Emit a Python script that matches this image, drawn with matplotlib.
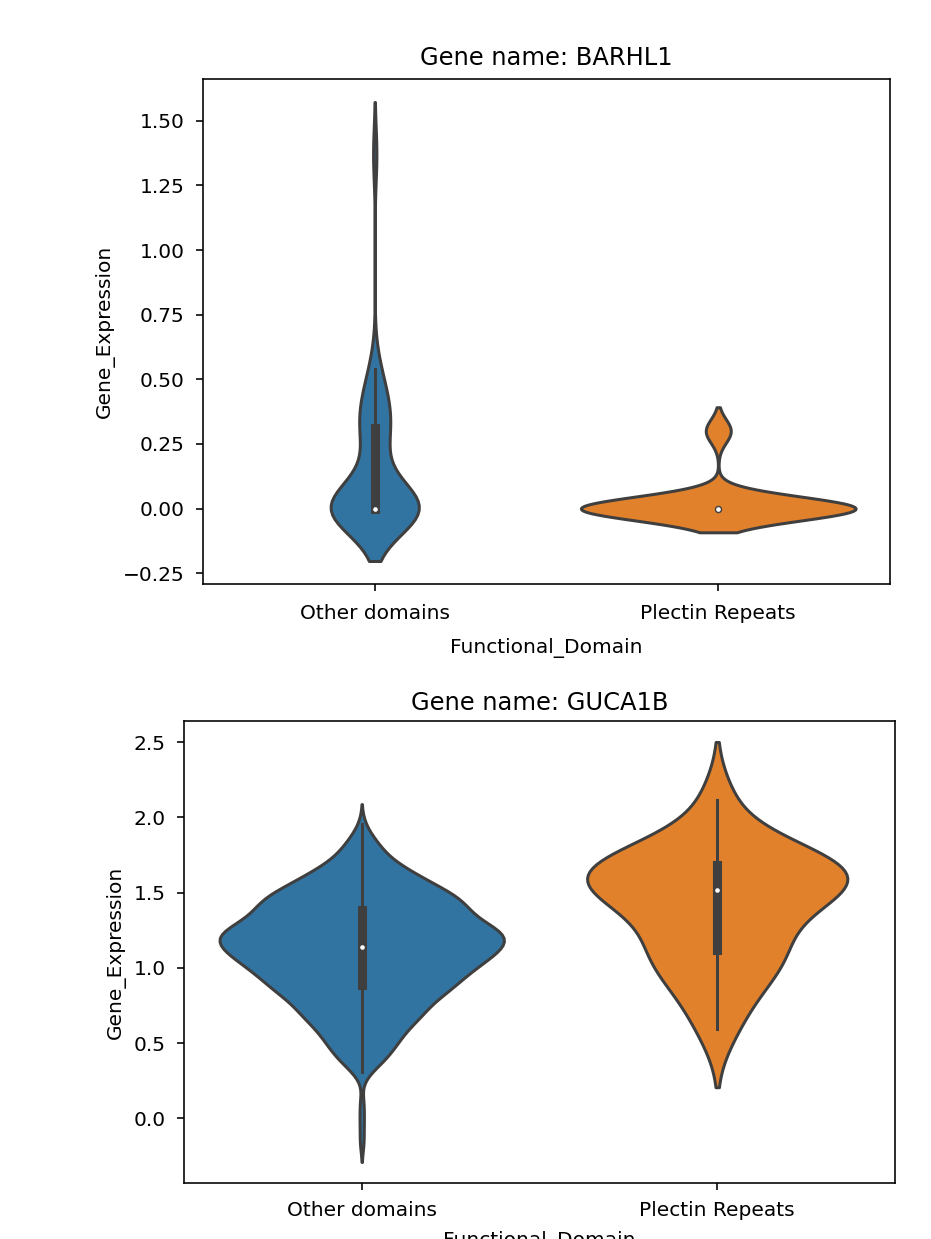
import numpy as np
import matplotlib
matplotlib.use("Agg")
import matplotlib.pyplot as plt

# categories on the x axis
domains = ["Other domains", "Plectin Repeats"]

# BARHL1: expression values and how many samples share each value
barhl1_other_values = [0.0, 0.16, 0.18, 0.24, 0.26, 0.31, 0.32, 0.33, 0.35, 0.37,
                       0.39, 0.43, 0.45, 0.50, 0.54, 1.37]
barhl1_other_counts = [26, 1, 1, 1, 1, 1, 1, 1, 1, 1,
                       1, 1, 1, 1, 1, 1]
barhl1_plectin_values = [0.0, 0.30]
barhl1_plectin_counts = [11, 1]

# GUCA1B: expression values and sample counts
guca1b_other_values = [-0.158, -0.03, 0.09, 0.305, 0.35, 0.385, 0.435, 0.485, 0.535, 0.585,
                       0.635, 0.685, 0.735, 0.785, 0.835, 0.885, 0.935, 0.985, 1.035, 1.085,
                       1.135, 1.185, 1.235, 1.285, 1.335, 1.385, 1.435, 1.485, 1.535, 1.585,
                       1.635, 1.685, 1.735, 1.785, 1.835, 1.885, 1.955]
guca1b_other_counts = [1, 1, 1, 2, 2, 4, 6, 6, 8, 8,
                       10, 12, 12, 14, 16, 18, 19, 21, 23, 25,
                       27, 28, 28, 24, 21, 20, 20, 18, 15, 12,
                       10, 7, 5, 4, 3, 2, 1]
guca1b_plectin_values = [0.592, 0.80, 0.93, 1.03, 1.09, 1.121, 1.22, 1.33, 1.43, 1.48,
                         1.519, 1.54, 1.57, 1.60, 1.64, 1.684, 1.69, 1.70, 1.74, 1.82,
                         2.115]
guca1b_plectin_counts = [1] * len(guca1b_plectin_values)

bandwidths = {"BARHL1": [0.1015, 0.046], "GUCA1B": [0.0665, 0.193]}

data = {
    "BARHL1": [(barhl1_other_values, barhl1_other_counts),
               (barhl1_plectin_values, barhl1_plectin_counts)],
    "GUCA1B": [(guca1b_other_values, guca1b_other_counts),
               (guca1b_plectin_values, guca1b_plectin_counts)],
}

colors = ["#3274a1", "#e1812c"]
gray = "#3f3f3f"
scale = 1.45
lw = 1.5 * scale

plt.rcParams.update({
    "font.size": 10 * scale,
    "axes.linewidth": 0.8 * scale,
    "xtick.major.size": 3.5 * scale,
    "ytick.major.size": 3.5 * scale,
    "xtick.major.width": 0.8 * scale,
    "ytick.major.width": 0.8 * scale,
    "xtick.major.pad": 8,
    "ytick.major.pad": 8,
    "axes.labelpad": 4 * scale,
})


def kde(values, counts, bw, cut=2, gridsize=100):
    v = np.asarray(values, dtype=float)
    w = np.asarray(counts, dtype=float)
    support = np.linspace(v.min() - cut * bw, v.max() + cut * bw, gridsize)
    z = (support[:, None] - v[None, :]) / bw
    dens = (np.exp(-0.5 * z ** 2) * w).sum(axis=1) / (w.sum() * bw * np.sqrt(2 * np.pi))
    return support, dens


def violins(ax, gene, title_pad, xpad, xlabelpad):
    groups = data[gene]
    curves = [kde(v, c, bw) for (v, c), bw in zip(groups, bandwidths[gene])]
    peak = max(d.max() for _, d in curves)
    for i, ((vals, cnts), (support, dens)) in enumerate(zip(groups, curves)):
        half = dens / peak * 0.4
        ax.fill_betweenx(support, i - half, i + half, facecolor=colors[i],
                         edgecolor=gray, linewidth=lw)
        v = np.repeat(vals, cnts)
        q25, q50, q75 = np.percentile(v, [25, 50, 75])
        iqr = q75 - q25
        lo = v[v >= q25 - 1.5 * iqr].min()
        hi = v[v <= q75 + 1.5 * iqr].max()
        ax.plot([i, i], [lo, hi], color=gray, linewidth=lw)
        ax.plot([i, i], [q25, q75], color=gray, linewidth=lw * 3)
        ax.scatter(i, q50, s=(lw * 2) ** 2, color="white", edgecolor=gray, zorder=3)
    ax.set_xlim(-0.5, 1.5)
    ax.set_xticks([0, 1])
    ax.set_xticklabels(domains)
    ax.tick_params(axis="x", pad=xpad)
    ax.set_xlabel("Functional_Domain", labelpad=xlabelpad)
    ax.set_ylabel("Gene_Expression")
    ax.set_title("Gene name: " + gene, fontsize=12 * scale, pad=title_pad)


fig = plt.figure(figsize=(9.31, 12.39), dpi=100)
ax1 = fig.add_axes([0.2180, 0.5287, 0.7380, 0.4075])
ax2 = fig.add_axes([0.1976, 0.0452, 0.7637, 0.3729])
violins(ax1, "BARHL1", 10, 9.5, 11)
violins(ax2, "GUCA1B", 8, 8, 8)

fig.savefig("out.png", dpi=100)
